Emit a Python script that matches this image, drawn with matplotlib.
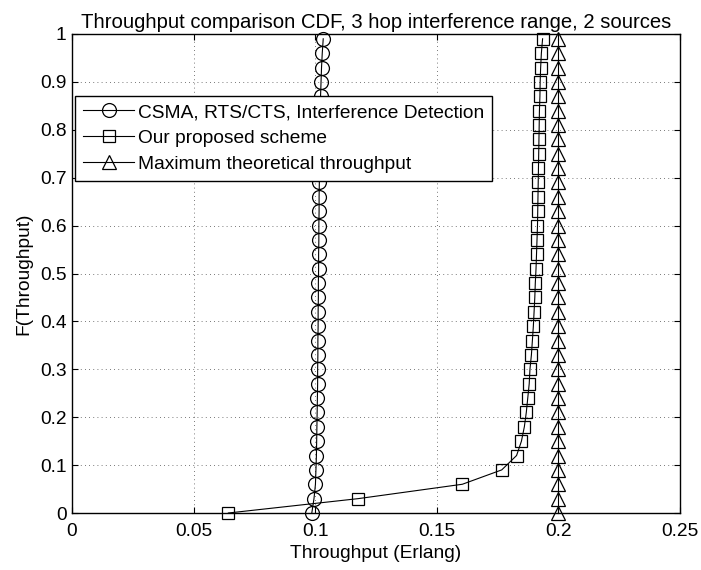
import numpy as np
import matplotlib
matplotlib.use('Agg')
import matplotlib.pyplot as plt

plt.rcParams['font.family'] = ['Liberation Sans', 'DejaVu Sans']

# CDF levels (same for the three curves)
cdf = [0.00, 0.03, 0.06, 0.09, 0.12, 0.15, 0.18, 0.21, 0.24, 0.27, 0.30, 0.33,
       0.36, 0.39, 0.42, 0.45, 0.48, 0.51, 0.54, 0.57, 0.60, 0.63, 0.66, 0.69,
       0.72, 0.75, 0.78, 0.81, 0.84, 0.87, 0.90, 0.93, 0.96, 0.99]

# CSMA, RTS/CTS, Interference Detection
csma = [0.0986, 0.0995, 0.1001, 0.1003, 0.1005, 0.1006, 0.1007, 0.1008, 0.1009,
        0.1010, 0.1010, 0.1011, 0.1011, 0.1012, 0.1012, 0.1013, 0.1013, 0.1014,
        0.1014, 0.1015, 0.1015, 0.1016, 0.1016, 0.1017, 0.1017, 0.1018, 0.1019,
        0.1020, 0.1021, 0.1022, 0.1024, 0.1026, 0.1029, 0.1033]

# proposed scheme
proposed = [0.0643, 0.1177, 0.1605, 0.1767, 0.1828, 0.1848, 0.1860, 0.1868,
            0.1874, 0.1880, 0.1883, 0.1889, 0.1893, 0.1897, 0.1900, 0.1903,
            0.1905, 0.1908, 0.1910, 0.1912, 0.1914, 0.1915, 0.1916, 0.1917,
            0.1918, 0.1919, 0.1920, 0.1921, 0.1922, 0.1924, 0.1925, 0.1927,
            0.1930, 0.1935]

# max theoretical throughput
maxth = [0.2] * len(cdf)

labels = ['CSMA, RTS/CTS, Interference Detection',
          'Our proposed scheme',
          'Maximum theoretical throughput']

xticks = [0, 0.05, 0.1, 0.15, 0.2, 0.25]
xticklabels = ['0', '0.05', '0.1', '0.15', '0.2', '0.25']
yticks = [0, 0.1, 0.2, 0.3, 0.4, 0.5, 0.6, 0.7, 0.8, 0.9, 1]
yticklabels = ['0', '0.1', '0.2', '0.3', '0.4', '0.5', '0.6', '0.7', '0.8', '0.9', '1']

fs = 13.8

fig = plt.figure(figsize=(7.01, 5.70), dpi=100)
ax = fig.add_axes([72/701, 1-513/570, (680-72)/701, (513-34)/570])

ax.plot(csma, cdf, 'k-', marker='o', mfc='none', mec='k', ms=10, lw=0.8, mew=0.9,
        label=labels[0], clip_on=False)
ax.plot(proposed, cdf, 'k-', marker='s', mfc='none', mec='k', ms=8.5, lw=0.8, mew=0.9,
        label=labels[1], clip_on=False)
ax.plot(maxth, cdf, 'k-', marker='^', mfc='none', mec='k', ms=10.5, lw=0.8, mew=0.9,
        label=labels[2], clip_on=False)

ax.set_xlim(0, 0.25)
ax.set_ylim(0, 1)
ax.set_xticks(xticks)
ax.set_xticklabels(xticklabels, fontsize=fs)
ax.set_yticks(yticks)
ax.set_yticklabels(yticklabels, fontsize=fs)
ax.tick_params(direction='in', length=4, width=0.8, top=True, right=True, pad=4)
ax.tick_params(axis='x', pad=7)
ax.grid(True, linestyle=(0, (1, 4)), color='k', linewidth=0.6, alpha=0.7)
for s in ax.spines.values():
    s.set_linewidth(1.0)

ax.set_xlabel('Throughput (Erlang)', fontsize=fs, labelpad=4)
ax.set_ylabel('F(Throughput)', fontsize=fs, labelpad=5)
ax.set_title('Throughput comparison CDF, 3 hop interference range, 2 sources',
             fontsize=14.6, pad=4)

leg = ax.legend(loc='upper left', bbox_to_anchor=((75-72)/608, (513-96)/479),
                borderaxespad=0, fontsize=fs, numpoints=1, handlelength=2.7,
                handletextpad=0.2, labelspacing=0.45, borderpad=0.4,
                fancybox=False, edgecolor='k', framealpha=1)
leg.get_frame().set_linewidth(1.0)

fig.savefig('out.png', dpi=100)
